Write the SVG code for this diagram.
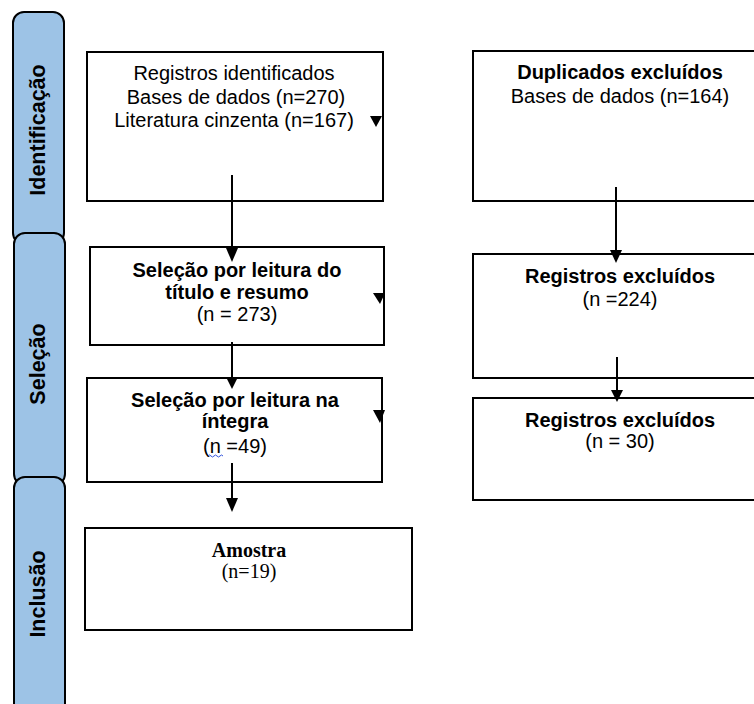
<svg xmlns="http://www.w3.org/2000/svg" width="754" height="704" viewBox="0 0 754 704">
<style>
.bar{fill:#9DC3E6;stroke:#000;stroke-width:2}
.box{fill:#fff;stroke:#000;stroke-width:2}
.lbl{font-family:"Liberation Sans",Arial,sans-serif;font-size:21.5px;font-weight:bold;fill:#000;text-anchor:middle}
.t{font-family:"Liberation Sans",Arial,sans-serif;font-size:20px;fill:#000;text-anchor:middle}
.b{font-weight:bold}
.tm{font-family:"Liberation Serif","Times New Roman",serif;font-size:20px;fill:#000;text-anchor:middle}
.ln{stroke:#000;stroke-width:2;fill:none}
.hd{fill:#000}
</style>
<rect width="754" height="704" fill="#fff"/>
<g id="phase-identificacao">
<rect class="bar" x="13" y="12" width="51" height="232" rx="11" ry="11"/>
<text class="lbl" transform="translate(45,130) rotate(-90)">Identificação</text>
</g>
<g id="phase-selecao">
<rect class="bar" x="14" y="233" width="51" height="252" rx="11" ry="11"/>
<text class="lbl" transform="translate(45,364) rotate(-90)">Seleção</text>
</g>
<g id="phase-inclusao">
<rect class="bar" x="14" y="477" width="51" height="240" rx="11" ry="11"/>
<text class="lbl" transform="translate(45,594) rotate(-90)">Inclusão</text>
</g>
<g id="registros-identificados">
<rect class="box" x="87" y="52" width="296" height="149"/>
<text class="t" x="234" y="80">Registros identificados</text>
<text class="t" x="236" y="103.5">Bases de dados (n=270)</text>
<text class="t" x="234" y="126.5">Literatura cinzenta (n=167)</text>
</g>
<g id="selecao-titulo">
<rect class="box" x="90" y="247" width="294" height="98"/>
<text class="t b" x="237" y="277">Seleção por leitura do</text>
<text class="t b" x="237" y="299">título e resumo</text>
<text class="t" x="237" y="321">(n = 273)</text>
</g>
<g id="selecao-integra">
<rect class="box" x="87" y="378" width="295" height="104"/>
<text class="t b" x="235" y="406.5">Seleção por leitura na</text>
<text class="t b" x="235" y="428">íntegra</text>
<text class="t" x="235" y="453">(n =49)</text>
<path d="M208,456 q1.5,-2 3,0 t3,0 t3,0 t3,0 t3,0" fill="none" stroke="#3355dd" stroke-width="1"/>
</g>
<g id="amostra">
<rect class="box" x="85" y="528" width="327" height="102"/>
<text class="tm b" x="249" y="557">Amostra</text>
<text class="tm" x="249" y="578">(n=19)</text>
</g>
<g id="duplicados-excluidos">
<rect class="box" x="473" y="51" width="290" height="150"/>
<text class="t b" x="620" y="79">Duplicados excluídos</text>
<text class="t" x="620" y="103">Bases de dados (n=164)</text>
</g>
<g id="registros-excluidos-224">
<rect class="box" x="473" y="254" width="290" height="124"/>
<text class="t b" x="620" y="282.5">Registros excluídos</text>
<text class="t" x="620" y="306">(n =224)</text>
</g>
<g id="registros-excluidos-30">
<rect class="box" x="473" y="398" width="290" height="102"/>
<text class="t b" x="620" y="426.5">Registros excluídos</text>
<text class="t" x="620" y="447.5">(n = 30)</text>
</g>
<g id="connectors">
<line class="ln" x1="232" y1="175" x2="232" y2="250"/>
<path class="hd" d="M226,248 L238,248 L232,262 Z"/>
<line class="ln" x1="232" y1="342" x2="232" y2="380"/>
<path class="hd" d="M226,377 L238,377 L232,389 Z"/>
<line class="ln" x1="232" y1="463" x2="232" y2="500"/>
<path class="hd" d="M226,498 L238,498 L232,512 Z"/>
<line class="ln" x1="616" y1="187" x2="616" y2="252"/>
<path class="hd" d="M610,250 L622,250 L616,263 Z"/>
<line class="ln" x1="617" y1="357" x2="617" y2="392"/>
<path class="hd" d="M611,390 L623,390 L617,402 Z"/>
<path class="hd" d="M370,116 L382,116 L376,127 Z"/>
<path class="hd" d="M373,293 L385,293 L380,304 Z"/>
<path class="hd" d="M373,410 L385,410 L380,423 Z"/>
</g>
</svg>
